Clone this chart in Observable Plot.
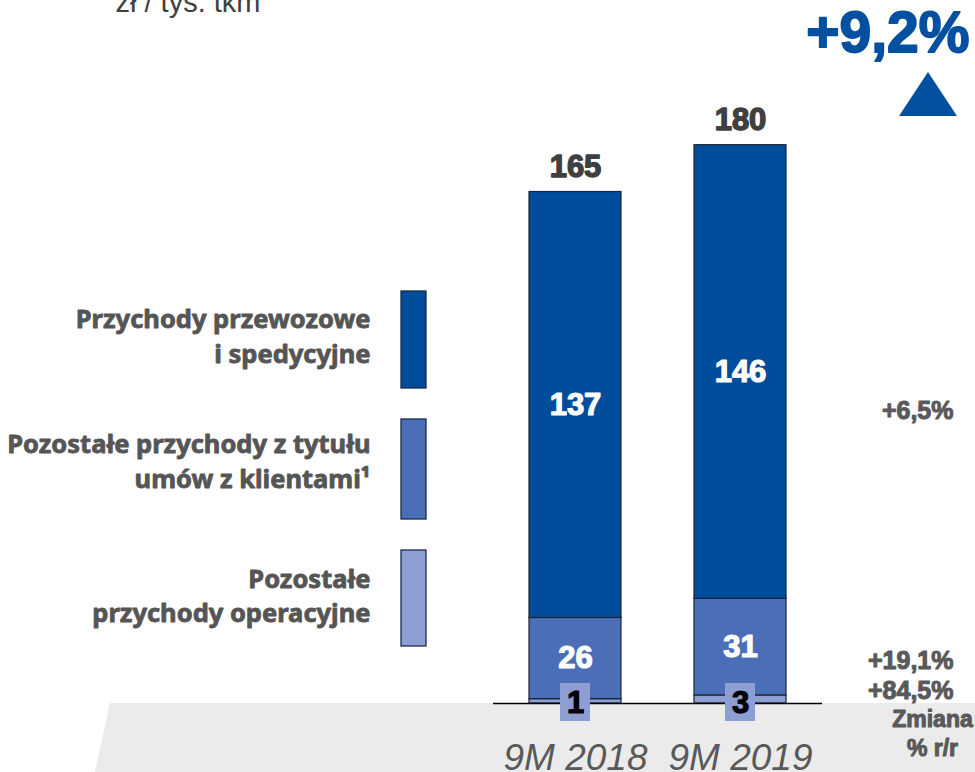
<!DOCTYPE html>
<html>
<head>
<meta charset="utf-8">
<script src="https://cdn.jsdelivr.net/npm/d3@7"></script>
<script src="https://cdn.jsdelivr.net/npm/@observablehq/plot@0.6"></script>
<style>
  html, body { margin: 0; padding: 0; background: #fff; }
  #chart svg { display: block; }
</style>
</head>
<body>
<div id="chart"></div>
<script>
// ---- data ----
const categories = ["9M 2018", "9M 2019"];
const seriesNames = [
  "Pozostałe przychody operacyjne",
  "Pozostałe przychody z tytułu umów z klientami",
  "Przychody przewozowe i spedycyjne"
];
const otherOperating = [1.4, 2.6];
const contractOther = [26.2, 31.2];
const transport = [137.4, 146.3];
const totals = [165, 180];
const changeLabels = ["+84,5%", "+19,1%", "+6,5%"]; // bottom -> top series
const totalChange = "+9,2%";
const unitLabel = "zł / tys. tkm";
const footerLabels = ["Zmiana", "% r/r"];
const legendLabels = [
  "Przychody przewozowe\ni spedycyjne",
  "Pozostałe przychody z tytułu\numów z klientami\u00b9",
  "Pozostałe\nprzychody operacyjne"
];
const colors = ["#8d9ed3", "#4b6fb7", "#004c9c"];

// ---- tables built from the arrays ----
const seriesValues = [otherOperating, contractOther, transport];
const rows = [];
seriesNames.forEach((s, si) => categories.forEach((c, ci) =>
  rows.push({category: c, series: s, value: seriesValues[si][ci]})));
const totalRows = categories.map((c, i) => ({category: c, total: totals[i]}));
const smallRows = rows.filter(d => d.series === seriesNames[0]);
const fmt = d3.format(".0f");

// ---- layout constants ----
const FONT = "'Liberation Sans', Arial, sans-serif";
const LEGEND_FONT = "'Noto Sans', 'Open Sans', sans-serif";
const legendLineDy = [[174, 209], [299, 334], [434, 468]];
const swatchY = [[291, 388], [419, 519], [550, 646]];
const legendColorOrder = [2, 1, 0];
const changeDy = [545, 515, 265];
const footerDy = [574, 603];

function band(index, scales, values, dims) {
  const g = d3.create("svg:g");
  const y0 = scales.y(0);
  g.append("path")
    .attr("d", `M110,${y0}H${dims.width}V${dims.height}H95Z`)
    .attr("fill", "#ebebeb");
  return g.node();
}

function decor(index, scales, values, dims) {
  const g = d3.create("svg:g");
  swatchY.forEach(([a, b], i) => {
    g.append("rect")
      .attr("x", 401).attr("y", a).attr("width", 25).attr("height", b - a)
      .attr("fill", colors[legendColorOrder[i]])
      .attr("stroke", "#1c2a48").attr("stroke-width", 1.3);
  });
  const W = dims.width;
  g.append("path")
    .attr("d", `M${W - 76},116L${W - 18},116L${W - 47},72Z`)
    .attr("fill", "#0350a0");
  return g.node();
}

const legendMarks = legendLabels.flatMap((t, i) =>
  t.split("\n").map((line, j) => Plot.text([line], {
    frameAnchor: "top-left", dx: -123, dy: legendLineDy[i][j],
    textAnchor: "end", lineAnchor: "middle",
    fontSize: 25.5, fontWeight: "bold", fill: "#555555",
    stroke: "#555555", strokeWidth: 0.8, fontFamily: LEGEND_FONT
  })));

const chart = Plot.plot({
  width: 975,
  height: 772,
  marginLeft: 493,
  marginRight: 153,
  marginTop: 145,
  marginBottom: 69,
  x: {domain: categories, paddingInner: 0.44, paddingOuter: 0.211, axis: null},
  y: {domain: [0, 180], axis: null},
  color: {domain: seriesNames, range: colors},
  style: {fontFamily: FONT, background: "#fff"},
  marks: [
    band,
    Plot.barY(rows, {
      x: "category", y: "value", fill: "series",
      stroke: "#1c2433", strokeWidth: 1.2
    }),
    Plot.ruleY([0], {stroke: "#000", strokeWidth: 1.5}),
    // segment labels
    Plot.text(rows, Plot.stackY({
      x: "category", y: "value", z: "series",
      text: d => d.series === seriesNames[0] ? "" : fmt(d.value),
      fill: "#fff", stroke: "#fff", strokeWidth: 1.2,
      fontSize: 31, fontWeight: "bold"
    })),
    // small value boxes
    Plot.barY(smallRows, {
      x: "category", y1: 0, y2: 0, fill: colors[0],
      insetTop: -20, insetBottom: -18, insetLeft: 31, insetRight: 31
    }),
    Plot.text(smallRows, {
      x: "category", y: 0, text: d => fmt(d.value),
      fill: "#000", stroke: "#000", strokeWidth: 1.2,
      fontSize: 31, fontWeight: "bold"
    }),
    // totals
    Plot.text(totalRows, {
      x: "category", y: "total", dy: -25, text: d => fmt(d.total),
      fill: "#3f3f3f", stroke: "#3f3f3f", strokeWidth: 1.4,
      fontSize: 31, fontWeight: "bold"
    }),
    // category labels
    Plot.text(categories, {
      x: d => d, frameAnchor: "bottom", dy: 66, lineAnchor: "bottom",
      fontSize: 37, fontStyle: "italic", fill: "#595959"
    }),
    // unit label
    Plot.text([unitLabel], {
      frameAnchor: "top-left", dx: -378, dy: -134, lineAnchor: "bottom",
      textAnchor: "start", fontSize: 29, fill: "#404040"
    }),
    // total change
    Plot.text([totalChange], {
      frameAnchor: "top-right", dx: 147, dy: -112, textAnchor: "end", lineAnchor: "middle",
      fontSize: 57, fontWeight: "bold", fill: "#0350a0", stroke: "#0350a0", strokeWidth: 1.8
    }),
    // per-series changes
    ...changeLabels.map((t, i) => Plot.text([t], {
      frameAnchor: "top-right", dx: 131, dy: changeDy[i], textAnchor: "end", lineAnchor: "middle",
      fontSize: 25, fontWeight: "bold", fill: "#595959", stroke: "#595959", strokeWidth: 1
    })),
    ...footerLabels.map((t, i) => Plot.text([t], {
      frameAnchor: "top-right", dx: 110, dy: footerDy[i], textAnchor: "middle", lineAnchor: "middle",
      fontSize: 23, fontWeight: "bold", fill: "#595959", stroke: "#595959", strokeWidth: 1
    })),
    // legend
    ...legendMarks,
    decor
  ]
});
document.getElementById("chart").append(chart);
</script>
</body>
</html>
